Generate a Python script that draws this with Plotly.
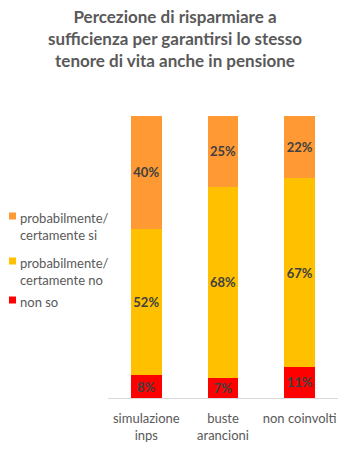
import plotly.graph_objects as go

categories = ["simulazione<br>inps", "buste<br>arancioni", "non coinvolti"]
non_so = [8, 7, 11]
cert_no = [52, 68, 67]
cert_si = [40, 25, 22]

legend_labels = [
    "probabilmente/<br>certamente si",
    "probabilmente/<br>certamente no",
    "non so",
]

series = [
    ("non so", non_so, "#ff0000"),
    ("probabilmente/ certamente no", cert_no, "#ffc000"),
    ("probabilmente/ certamente si", cert_si, "#ff9933"),
]

FONT = "Lato"
GREY = "#595959"
W, H = 350, 457
ML, MR, MT, MB = 108, 12, 116, 59
PW, PH = W - ML - MR, H - MT - MB


def px_x(x):
    return (x - ML) / PW


def px_y(y):
    return (H - MB - y) / PH


fig = go.Figure()
for name, vals, color in series:
    fig.add_trace(go.Bar(
        x=categories, y=vals, name=name,
        marker=dict(color=color, line=dict(width=0)),
        width=0.4,
        text=[f"{v}%" for v in vals],
        textposition="inside",
        insidetextanchor="middle",
        textangle=0,
        constraintext="none",
        textfont=dict(family=FONT, size=13, color="#404040", weight="bold"),
        hoverinfo="skip",
        showlegend=False,
    ))

# Hand-placed legend on the left: colour square plus wrapped label
legend_colors = [s[2] for s in reversed(series)]
legend_rows = [216, 261, 300]
for label, color, yc in zip(legend_labels, legend_colors, legend_rows):
    fig.add_shape(
        type="rect", xref="paper", yref="paper",
        x0=px_x(9), x1=px_x(16), y0=px_y(yc + 3.5), y1=px_y(yc - 3.5),
        fillcolor=color, line=dict(width=0),
    )
    fig.add_annotation(
        text=label, xref="paper", yref="paper",
        x=px_x(18), y=px_y(yc - 8), align="left",
        xanchor="left", yanchor="top", showarrow=False,
        font=dict(family=FONT, size=13, color=GREY),
    )

fig.update_layout(
    width=W, height=H,
    barmode="stack",
    plot_bgcolor="white", paper_bgcolor="white",
    margin=dict(l=ML, r=MR, t=MT, b=MB, autoexpand=False),
    title=dict(
        text="Percezione di risparmiare a<br>sufficienza per garantirsi lo stesso<br>tenore di vita anche in pensione",
        x=0.5, xanchor="center", xref="container",
        y=1 - 23 / H, yanchor="middle", yref="container",
        font=dict(family=FONT, size=17, color=GREY, weight="bold"),
    ),
    showlegend=False,
    xaxis=dict(
        showline=True, linecolor="#d9d9d9", linewidth=1,
        ticks="", tickfont=dict(family=FONT, size=13, color=GREY),
        ticklabelstandoff=8,
        showgrid=False,
    ),
    yaxis=dict(range=[0, 100], visible=False, showgrid=False),
)

fig.write_html("out.html")
